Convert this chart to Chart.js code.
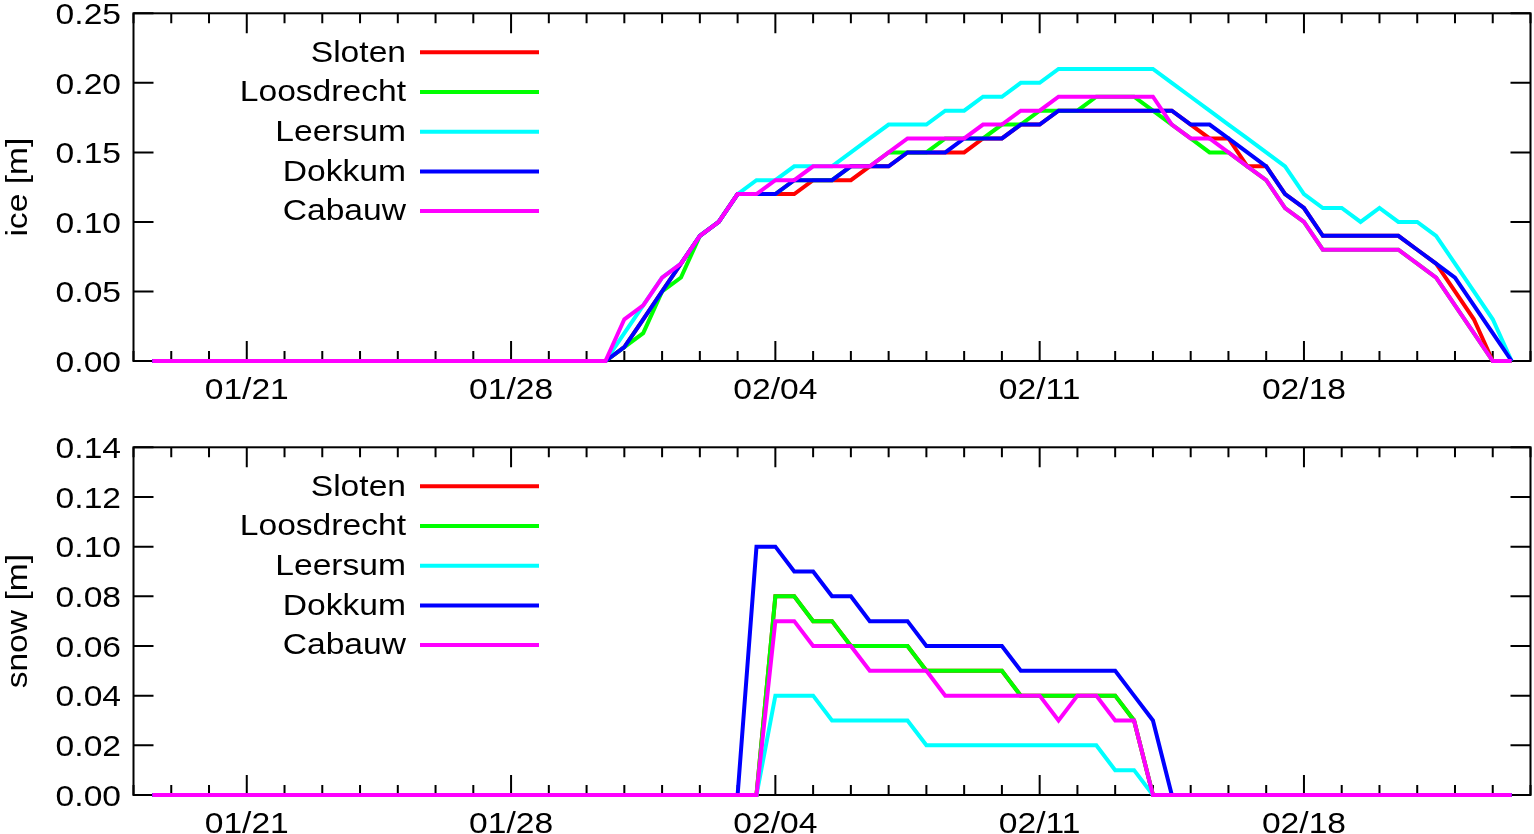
<!DOCTYPE html>
<html><head><meta charset="utf-8">
<script src="https://cdn.jsdelivr.net/npm/chart.js@4.4.1/dist/chart.umd.min.js"></script>
<style>
html,body{margin:0;padding:0;background:#fff;overflow:hidden}
#wrap{position:relative;width:1534px;height:834px;background:#fff}
.pane{position:absolute;left:0;width:1534px;height:417px}
canvas{display:block}
</style></head><body>
<div id="wrap">
<div class="pane" style="top:0"><canvas id="ice" width="1534" height="417"></canvas></div>
<div class="pane" style="top:417px"><canvas id="snow" width="1534" height="417"></canvas></div>
</div>
<script>
// ---------- categories ----------
const days = ['01/18','01/19','01/20','01/21','01/22','01/23','01/24','01/25','01/26','01/27',
  '01/28','01/29','01/30','01/31','02/01','02/02','02/03','02/04','02/05','02/06','02/07',
  '02/08','02/09','02/10','02/11','02/12','02/13','02/14','02/15','02/16','02/17','02/18',
  '02/19','02/20','02/21','02/22','02/23','02/24'];
const majorDays = ['01/21','01/28','02/04','02/11','02/18'];
const stations = ['Sloten','Loosdrecht','Leersum','Dokkum','Cabauw'];
const colors = ['#ff0000','#00ff00','#00ffff','#0000ff','#ff00ff'];
const iceTicks = [0.00,0.05,0.10,0.15,0.20,0.25];
const snowTicks = [0.00,0.02,0.04,0.06,0.08,0.10,0.12,0.14];

// ---------- series: values every 12 h, 01/18 12:00 .. 02/23 12:00 ----------
const iceSloten = [0,0,0,0,0, 0,0,0,0,0, 0,0,0,0,0, 0,0,0,0,0, 0,0,0,0,0,
  .01,.03,.05,.07,.09,.10,.12,.12,.12,.12,
  .13,.13,.13,.14,.14,.15,.15,.15,.15,.16,
  .16,.17,.17,.18,.18,.18,.18,.18,.18,.18,
  .17,.16,.16,.14,.14,.12,.11,.09,.09,.09,
  .09,.09,.08,.07,.05,.03,0,0];
const iceLoosdrecht = [0,0,0,0,0, 0,0,0,0,0, 0,0,0,0,0, 0,0,0,0,0, 0,0,0,0,0,
  .01,.02,.05,.06,.09,.10,.12,.12,.12,.13,
  .13,.13,.14,.14,.15,.15,.15,.16,.16,.16,
  .17,.17,.18,.18,.18,.19,.19,.19,.18,.17,
  .16,.15,.15,.14,.13,.11,.10,.08,.08,.08,
  .08,.08,.07,.06,.04,.02,0,0];
const iceLeersum = [0,0,0,0,0, 0,0,0,0,0, 0,0,0,0,0, 0,0,0,0,0, 0,0,0,0,0,
  .02,.04,.06,.07,.09,.10,.12,.13,.13,.14,
  .14,.14,.15,.16,.17,.17,.17,.18,.18,.19,
  .19,.20,.20,.21,.21,.21,.21,.21,.21,.20,
  .19,.18,.17,.16,.15,.14,.12,.11,.11,.10,
  .11,.10,.10,.09,.07,.05,.03,0];
const iceDokkum = [0,0,0,0,0, 0,0,0,0,0, 0,0,0,0,0, 0,0,0,0,0, 0,0,0,0,0,
  .01,.03,.05,.07,.09,.10,.12,.12,.12,.13,
  .13,.13,.14,.14,.14,.15,.15,.15,.16,.16,
  .16,.17,.17,.18,.18,.18,.18,.18,.18,.18,
  .17,.17,.16,.15,.14,.12,.11,.09,.09,.09,
  .09,.09,.08,.07,.06,.04,.02,0];
const iceCabauw = [0,0,0,0,0, 0,0,0,0,0, 0,0,0,0,0, 0,0,0,0,0, 0,0,0,0,0,
  .03,.04,.06,.07,.09,.10,.12,.12,.13,.13,
  .14,.14,.14,.14,.15,.16,.16,.16,.16,.17,
  .17,.18,.18,.19,.19,.19,.19,.19,.19,.17,
  .16,.16,.15,.14,.13,.11,.10,.08,.08,.08,
  .08,.08,.07,.06,.04,.02,0,0];

const snowSloten = [0,0,0,0,0,0,0,0, 0,0,0,0,0,0,0,0, 0,0,0,0,0,0,0,0, 0,0,0,0,0,0,0,0,
  0,.08,.08,.07,.07,.06,.06,.06,.06,.05,
  .05,.05,.05,.05,.04,.04,.04,.04,.04,.04,
  .03, 0,0,0,0,0,0,0,0,0,0, 0,0,0,0,0,0,0,0,0,0];
const snowLoosdrecht = [0,0,0,0,0,0,0,0, 0,0,0,0,0,0,0,0, 0,0,0,0,0,0,0,0, 0,0,0,0,0,0,0,0,
  0,.08,.08,.07,.07,.06,.06,.06,.06,.05,
  .05,.05,.05,.05,.04,.04,.04,.04,.04,.04,
  .03, 0,0,0,0,0,0,0,0,0,0, 0,0,0,0,0,0,0,0,0,0];
const snowLeersum = [0,0,0,0,0,0,0,0, 0,0,0,0,0,0,0,0, 0,0,0,0,0,0,0,0, 0,0,0,0,0,0,0,0,
  0,.04,.04,.04,.03,.03,.03,.03,.03,.02,
  .02,.02,.02,.02,.02,.02,.02,.02,.02,.01,
  .01, 0,0,0,0,0,0,0,0,0,0, 0,0,0,0,0,0,0,0,0,0];
const snowDokkum = [0,0,0,0,0,0,0,0, 0,0,0,0,0,0,0,0, 0,0,0,0,0,0,0,0, 0,0,0,0,0,0,0,0,
  .10,.10,.09,.09,.08,.08,.07,.07,.07,.06,
  .06,.06,.06,.06,.05,.05,.05,.05,.05,.05,
  .04,.03, 0,0,0,0,0,0,0,0,0, 0,0,0,0,0,0,0,0,0,0];
const snowCabauw = [0,0,0,0,0,0,0,0, 0,0,0,0,0,0,0,0, 0,0,0,0,0,0,0,0, 0,0,0,0,0,0,0,0,
  0,.07,.07,.06,.06,.06,.05,.05,.05,.05,
  .04,.04,.04,.04,.04,.04,.03,.04,.04,.03,
  .03, 0,0,0,0,0,0,0,0,0,0, 0,0,0,0,0,0,0,0,0,0];

// ---------- category labels (every 12 h, 01/18 00:00 .. 02/24 00:00) ----------
const labels = [];
days.forEach((d, i) => {
  labels.push(d + ' 00:00');
  if (i < days.length - 1) labels.push(d + ' 12:00');
});

const FONT = '30px "Liberation Sans", Arial, Helvetica, sans-serif';
const SX = 1.12;
const MID = 10.7;
function sText(ctx, txt, x, y, align, rot) {
  ctx.save();
  ctx.translate(x, y);
  if (rot) ctx.rotate(rot);
  ctx.scale(SX, 1);
  ctx.font = FONT;
  ctx.fillStyle = '#000';
  ctx.textAlign = align;
  ctx.textBaseline = 'alphabetic';
  ctx.fillText(txt, 0, 0);
  ctx.restore();
}

function gnuplotLook(yTicks, yTitle) {
  return {
    id: 'gnuplotLook',
    beforeDatasetsDraw(chart) {
      const ctx = chart.ctx, a = chart.chartArea;
      const xs = chart.scales.x, ys = chart.scales.y;
      ctx.save();
      ctx.strokeStyle = '#000';
      ctx.lineWidth = 2;
      ctx.strokeRect(a.left, a.top, a.right - a.left, a.bottom - a.top);
      ctx.beginPath();
      labels.forEach((lab, i) => {
        if (!lab.endsWith('00:00')) return;
        const len = majorDays.includes(lab.slice(0, 5)) ? 20 : 10;
        const px = xs.getPixelForValue(i);
        ctx.moveTo(px, a.bottom); ctx.lineTo(px, a.bottom - len);
        ctx.moveTo(px, a.top); ctx.lineTo(px, a.top + len);
      });
      yTicks.forEach(v => {
        const py = ys.getPixelForValue(v);
        ctx.moveTo(a.left, py); ctx.lineTo(a.left + 20, py);
        ctx.moveTo(a.right, py); ctx.lineTo(a.right - 20, py);
      });
      ctx.stroke();
      ctx.restore();
    },
    afterDraw(chart) {
      const ctx = chart.ctx, a = chart.chartArea;
      const xs = chart.scales.x, ys = chart.scales.y;
      labels.forEach((lab, i) => {
        const d = lab.slice(0, 5);
        if (lab.endsWith('00:00') && majorDays.includes(d)) {
          sText(ctx, d, xs.getPixelForValue(i), a.bottom + 27.5 + MID, 'center');
        }
      });
      yTicks.forEach(v => {
        sText(ctx, v.toFixed(2), 121, ys.getPixelForValue(v) + MID, 'right');
      });
      sText(ctx, yTitle, 27, (a.top + a.bottom) / 2, 'center', -Math.PI / 2);
      chart.data.datasets.forEach((ds, i) => {
        const y = a.top + 39 + 39.7 * i;
        sText(ctx, ds.label, 406, y + MID - 1.5, 'right');
        ctx.save();
        ctx.strokeStyle = ds.borderColor;
        ctx.lineWidth = 4;
        ctx.beginPath();
        ctx.moveTo(420, y); ctx.lineTo(539, y);
        ctx.stroke();
        ctx.restore();
      });
    }
  };
}

function makeChart(id, series, yMax, yTicks, yTitle, padTop, xAxisH) {
  return new Chart(document.getElementById(id), {
    type: 'line',
    data: {
      labels: labels,
      datasets: stations.map((s, i) => ({
        label: s,
        data: [null].concat(series[i], [null]),
        borderColor: colors[i],
        backgroundColor: colors[i],
        borderWidth: 4,
        pointRadius: 0,
        pointHoverRadius: 0,
        tension: 0,
        fill: false,
        order: stations.length - i,
        clip: false,
        borderJoinStyle: 'miter',
        borderCapStyle: 'butt'
      }))
    },
    options: {
      responsive: false,
      animation: false,
      events: [],
      layout: { padding: { left: 0, right: 3.5, top: padTop, bottom: 0 } },
      plugins: { legend: { display: false }, tooltip: { enabled: false } },
      scales: {
        x: {
          type: 'category', offset: false,
          grid: { display: false }, border: { display: false },
          ticks: { display: false },
          afterFit(s) { s.height = xAxisH; }
        },
        y: {
          type: 'linear', min: 0, max: yMax,
          grid: { display: false }, border: { display: false },
          ticks: { display: false },
          afterFit(s) { s.width = 133.5; }
        }
      }
    },
    plugins: [gnuplotLook(yTicks, yTitle)]
  });
}

makeChart('ice', [iceSloten, iceLoosdrecht, iceLeersum, iceDokkum, iceCabauw],
  0.25, iceTicks, 'ice [m]', 13.3, 56);
makeChart('snow', [snowSloten, snowLoosdrecht, snowLeersum, snowDokkum, snowCabauw],
  0.14, snowTicks, 'snow [m]', 30.3, 39);
</script>
</body></html>
